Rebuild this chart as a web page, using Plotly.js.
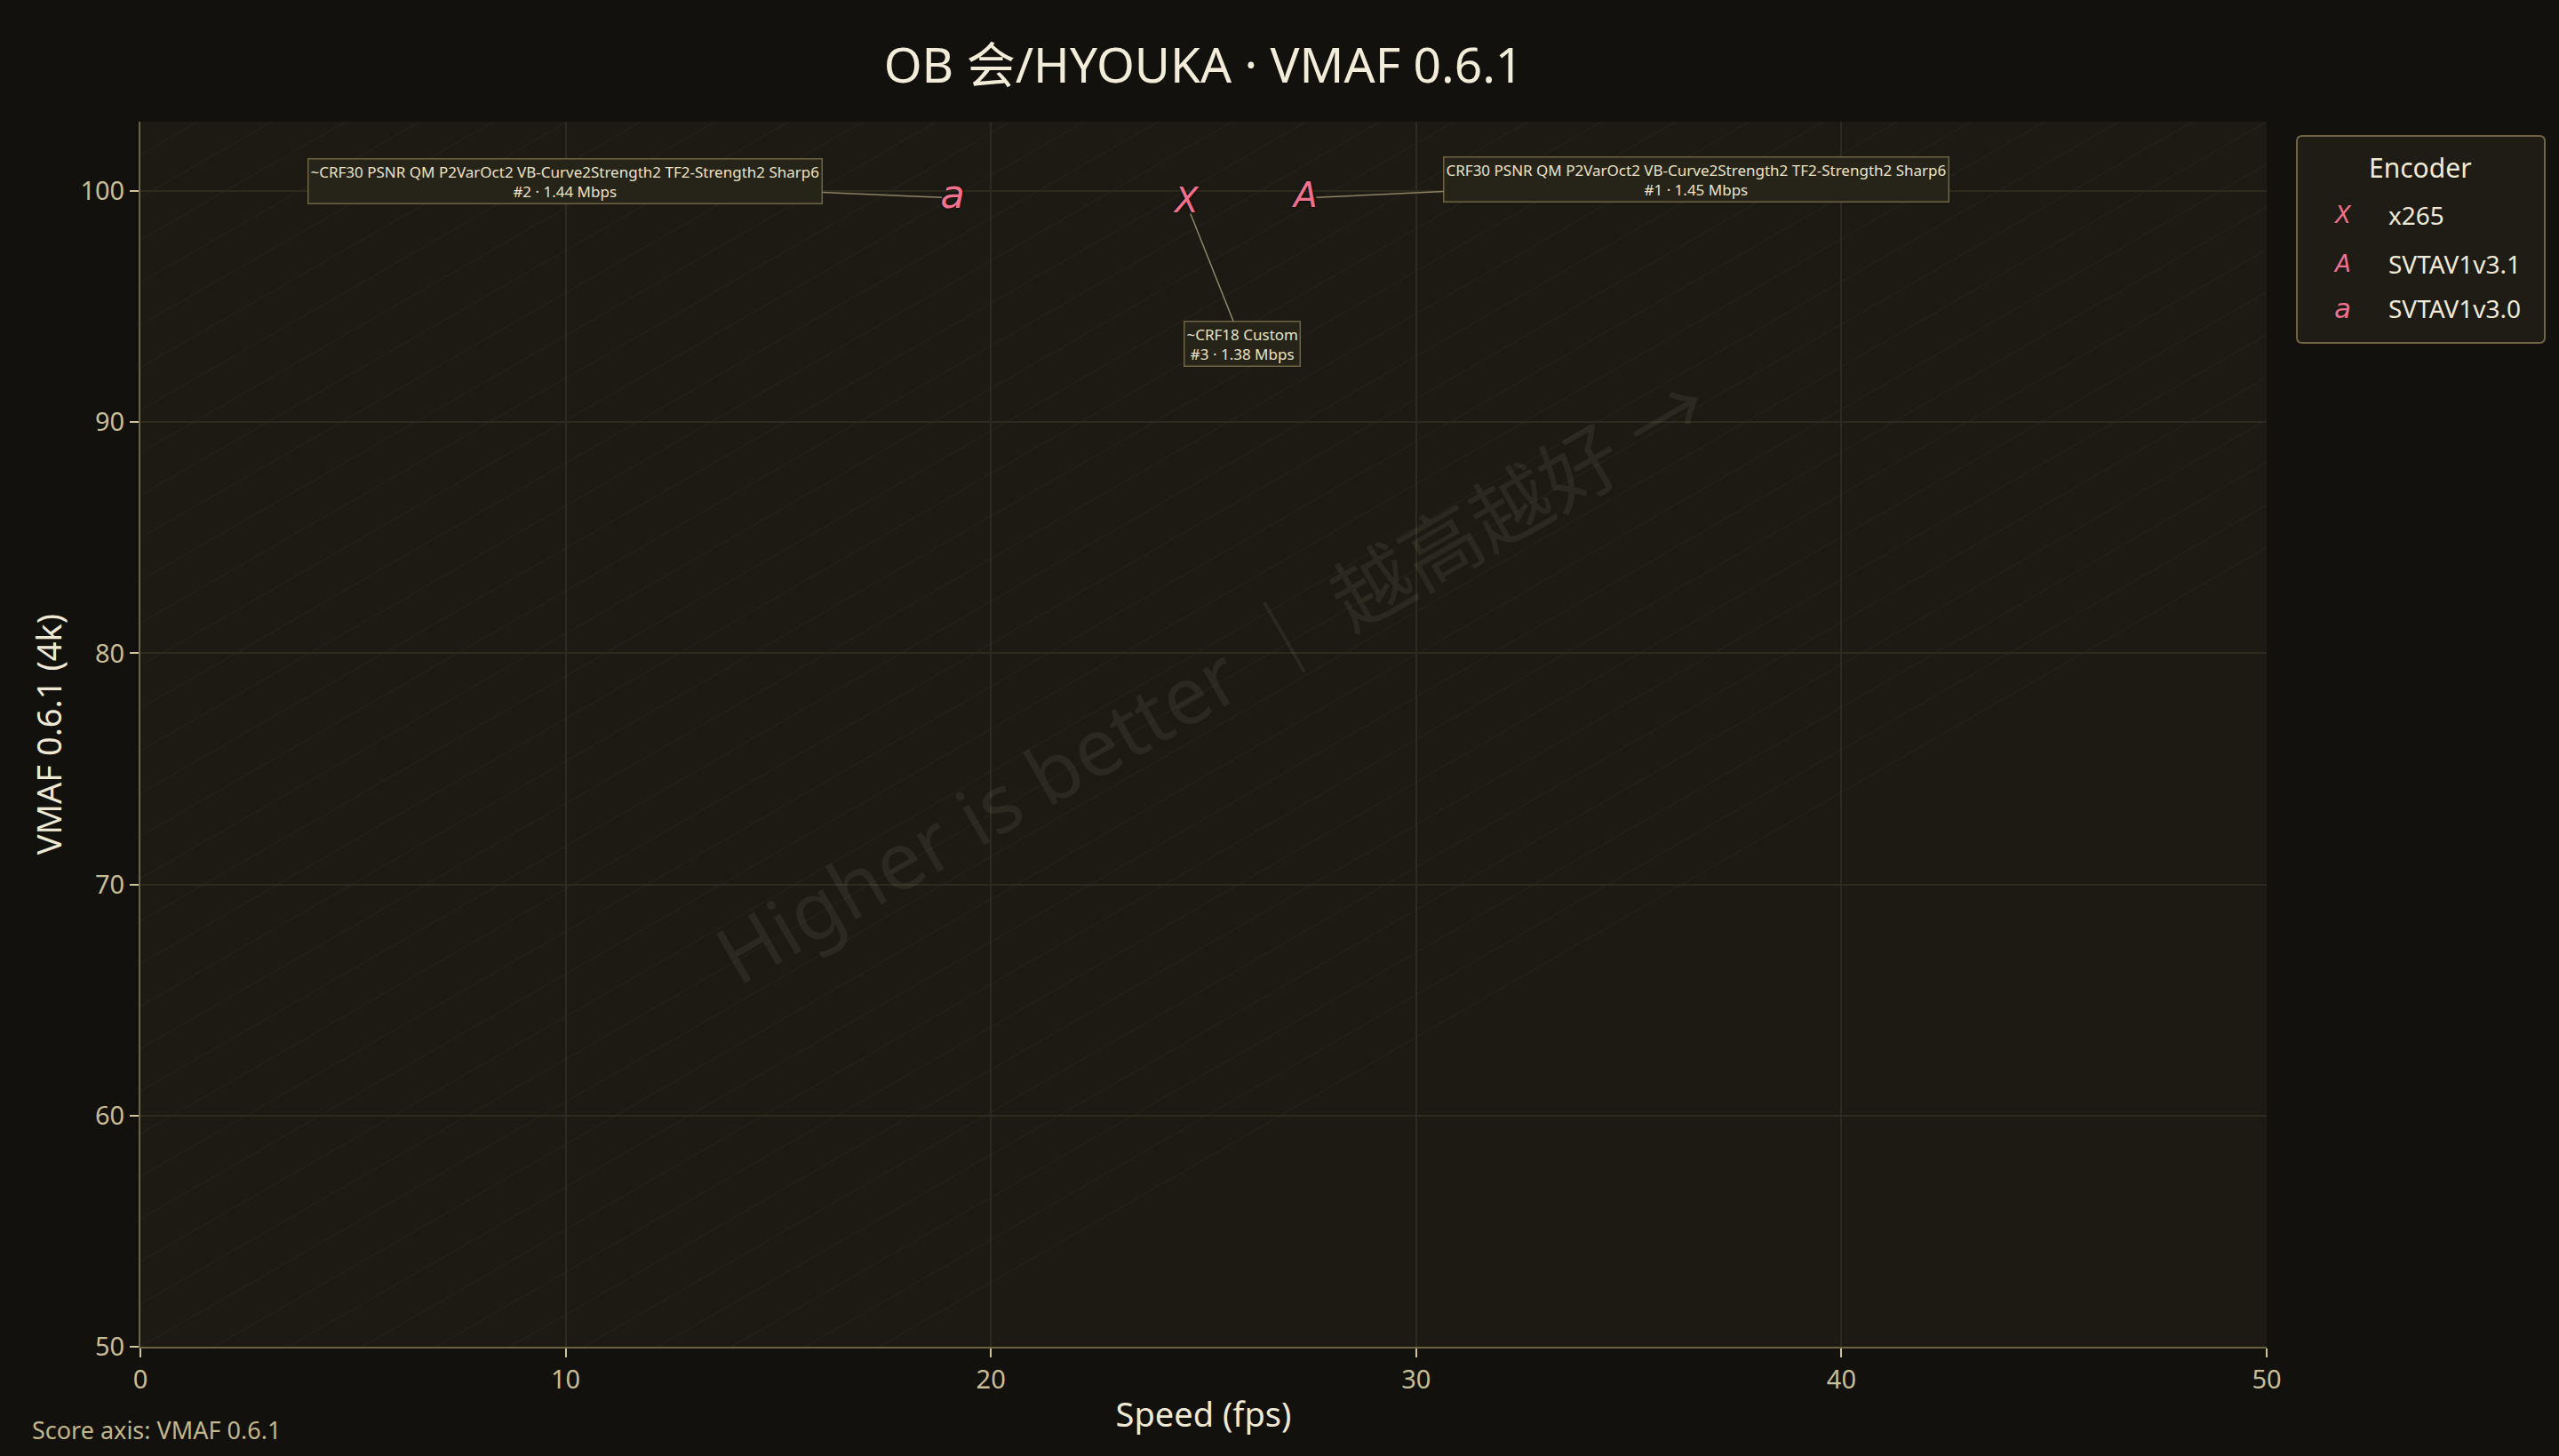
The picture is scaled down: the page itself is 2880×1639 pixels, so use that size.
<!DOCTYPE html>
<html>
<head>
<meta charset="utf-8">
<script src="https://cdn.plot.ly/plotly-3.0.1.min.js"></script>
<style>
  html, body { margin: 0; padding: 0; background: #12110d; }
  #chart { width: 2880px; height: 1639px; }
</style>
</head>
<body>
<div id="chart"></div>
<script>
// ---------------- DATA ----------------
const encoders = ['x265', 'SVTAV1v3.1', 'SVTAV1v3.0'];
const glyphs = ['X', 'A', 'a'];
const speedFps = [24.6, 27.4, 19.1];
const vmafScores = [99.45, 99.7, 99.7];
const ranks = ['#3', '#1', '#2'];
const bitratesMbps = [1.38, 1.45, 1.44];
const presetLabels = [
  '~CRF18 Custom',
  'CRF30 PSNR QM P2VarOct2 VB-Curve2Strength2 TF2-Strength2 Sharp6',
  '~CRF30 PSNR QM P2VarOct2 VB-Curve2Strength2 TF2-Strength2 Sharp6'
];
const xTickVals = [0, 10, 20, 30, 40, 50];
const yTickVals = [50, 60, 70, 80, 90, 100];
const chartTitle = 'OB 会/HYOUKA · VMAF 0.6.1';
const xTitle = 'Speed (fps)';
const yTitle = 'VMAF 0.6.1 (4k)';
const legendTitle = 'Encoder';
const footnote = 'Score axis: VMAF 0.6.1';
const watermark = 'Higher is better ｜ 越高越好 →';

// ---------------- LAYOUT / STYLE ----------------
const FULL_W = 2880, FULL_H = 1639;
const L = 158, R = 2551, T = 137, B = 1516;
const W = R - L, H = B - T;
const fx = px => (px - L) / W;
const fy = py => (B - py) / H;

const PINK = '#f0718e';
const FONT = '"Noto Sans", "Noto Sans CJK SC", sans-serif';
const GLYPH_FONT = '"DejaVu Sans", sans-serif';
const glyphSize = [39, 39, 45];
const legendGlyphSize = [26, 26, 31];
const labelOffsets = [[63, 158], [440, -21], [-436, -19]];

const traces = encoders.map((name, i) => ({
  type: 'scatter',
  mode: 'text',
  name: name,
  x: [speedFps[i]],
  y: [vmafScores[i]],
  text: [glyphs[i]],
  textposition: 'middle center',
  textfont: { family: GLYPH_FONT, size: glyphSize[i], color: PINK, style: 'italic',
              shadow: '0px 0px 3px rgba(0,0,0,0.9)' },
  showlegend: false,
  hoverinfo: 'x+y+name'
}));

const shapes = [];
// diagonal hatch lines (45° in axes fraction)
const step = 0.03475;
for (let k = -10; k <= 28; k++) {
  const c = k * step;
  let x0, y0, x1, y1;
  if (c >= 0) { x0 = 0; y0 = c; x1 = 1 - c; y1 = 1; }
  else { x0 = -c; y0 = 0; x1 = 1; y1 = 1 + c; }
  shapes.push({ type: 'line', xref: 'paper', yref: 'paper', x0, y0, x1, y1,
    line: { color: 'rgba(235,220,175,0.045)', width: 1.3 }, layer: 'below' });
}
// legend box (rounded)
function roundRectPath(x0, y0, x1, y1, r) {
  const p = (x, y) => fx(x).toFixed(5) + ',' + fy(y).toFixed(5);
  return 'M' + p(x0 + r, y0) + ' L' + p(x1 - r, y0) + ' Q' + p(x1, y0) + ' ' + p(x1, y0 + r) +
    ' L' + p(x1, y1 - r) + ' Q' + p(x1, y1) + ' ' + p(x1 - r, y1) +
    ' L' + p(x0 + r, y1) + ' Q' + p(x0, y1) + ' ' + p(x0, y1 - r) +
    ' L' + p(x0, y0 + r) + ' Q' + p(x0, y0) + ' ' + p(x0 + r, y0) + ' Z';
}
shapes.push({ type: 'path', xref: 'paper', yref: 'paper',
  path: roundRectPath(2585, 153, 2864, 386, 6),
  fillcolor: '#1e1c15', line: { color: '#6e6443', width: 2 }, layer: 'above' });

const annotations = [];
// watermark
annotations.push({ xref: 'paper', yref: 'paper', x: fx(1364), y: fy(763),
  text: watermark, showarrow: false, textangle: -30,
  font: { family: FONT, size: 90, color: 'rgba(205,192,150,0.09)' } });

// point labels
encoders.forEach((name, i) => {
  annotations.push({
    x: speedFps[i], y: vmafScores[i], xref: 'x', yref: 'y',
    text: presetLabels[i] + '<br>' + ranks[i] + ' · ' + bitratesMbps[i].toFixed(2) + ' Mbps',
    showarrow: true, arrowhead: 0, arrowwidth: 1.5, arrowcolor: '#8b8363',
    ax: labelOffsets[i][0], ay: labelOffsets[i][1], axref: 'pixel', ayref: 'pixel',
    standoff: 12,
    font: { family: FONT, size: 17, color: '#ebe2c7' },
    bgcolor: 'rgba(39,36,25,0.95)', bordercolor: '#6e6443', borderwidth: 1.5, borderpad: 2,
    align: 'center'
  });
});

// manual legend
annotations.push({ xref: 'paper', yref: 'paper', x: fx(2724), y: fy(189),
  text: legendTitle, showarrow: false, xanchor: 'center', yanchor: 'middle',
  font: { family: FONT, size: 30, color: '#f0e9d6' } });
const legendRowY = [242, 297, 347];
encoders.forEach((name, i) => {
  annotations.push({ xref: 'paper', yref: 'paper', x: fx(2636), y: fy(legendRowY[i]),
    text: glyphs[i], showarrow: false, xanchor: 'center', yanchor: 'middle',
    font: { family: GLYPH_FONT, size: legendGlyphSize[i], color: PINK, style: 'italic' } });
  annotations.push({ xref: 'paper', yref: 'paper', x: fx(2686), y: fy(legendRowY[i]),
    text: name, showarrow: false, xanchor: 'left', yanchor: 'middle',
    font: { family: FONT, size: 28, color: '#f0e9d6' } });
});

// footnote
annotations.push({ xref: 'paper', yref: 'paper', x: fx(34), y: fy(1609),
  text: footnote, showarrow: false, xanchor: 'left', yanchor: 'middle',
  font: { family: FONT, size: 27, color: '#c2b68c' } });

const axisCommon = {
  showline: true, linecolor: '#6b6242', linewidth: 2,
  ticks: 'outside', ticklen: 10, tickwidth: 2, tickcolor: '#cfc49c',
  gridcolor: '#2e2b1e', gridwidth: 2, zeroline: false,
  tickfont: { family: FONT, size: 29, color: '#c8bd94' },
  automargin: false
};

const layout = {
  width: FULL_W, height: FULL_H,
  margin: { l: L, r: FULL_W - R, t: T, b: FULL_H - B, pad: 0 },
  paper_bgcolor: '#12110d',
  plot_bgcolor: '#1c1a13',
  showlegend: false,
  title: { text: chartTitle, x: 0.5, xref: 'paper', y: 1 - 74 / FULL_H, yref: 'container',
           yanchor: 'middle', xanchor: 'center',
           font: { family: FONT, size: 55, color: '#f2ecd9' } },
  xaxis: Object.assign({}, axisCommon, {
    range: [0, 50], tickvals: xTickVals, ticktext: xTickVals.map(String),
    title: { text: xTitle, standoff: 10, font: { family: FONT, size: 38, color: '#efe8d4' } }
  }),
  yaxis: Object.assign({}, axisCommon, {
    range: [50, 103], tickvals: yTickVals, ticktext: yTickVals.map(String),
    title: { text: yTitle, standoff: 9, font: { family: FONT, size: 38, color: '#efe8d4' } }
  }),
  shapes: shapes,
  annotations: annotations
};

Plotly.newPlot('chart', traces, layout, { displayModeBar: false, responsive: false });
</script>
</body>
</html>
